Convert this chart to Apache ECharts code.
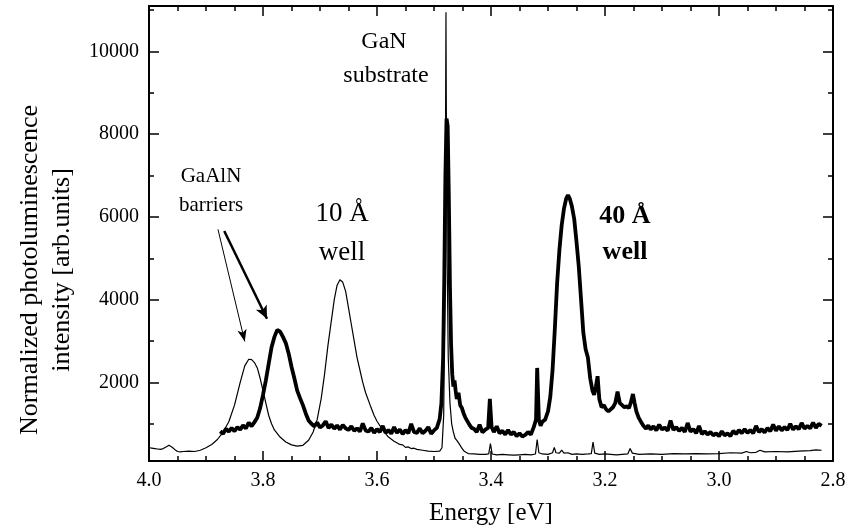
<!DOCTYPE html>
<html>
<head>
<meta charset="utf-8">
<script src="https://cdn.jsdelivr.net/npm/echarts@6/dist/echarts.min.js"></script>
<style>
  html, body { margin: 0; padding: 0; background: #fff; }
  #chart { width: 850px; height: 531px; }
</style>
</head>
<body>
<div id="chart"></div>
<script>
// x tick labels (eV) and y tick values
const xLabels = [2.8, 3.0, 3.2, 3.4, 3.6, 3.8, 4.0];
const yMajor = [2000, 4000, 6000, 8000, 10000];
const yMinor = [1000, 3000, 5000, 7000, 9000, 11000];

// 10 Å well spectrum [energy eV, intensity]
const thinCurve = [
    [4.000, 420], [3.995, 410], [3.990, 400], [3.985, 390], [3.980, 380], [3.975, 400],
    [3.970, 440], [3.965, 480], [3.960, 440], [3.955, 380], [3.950, 330], [3.945, 320],
    [3.940, 330], [3.930, 340], [3.920, 330], [3.910, 360], [3.900, 420], [3.890, 500],
    [3.880, 620], [3.870, 800], [3.860, 1050], [3.850, 1450], [3.840, 2000], [3.832, 2400],
    [3.825, 2560], [3.820, 2550], [3.815, 2480], [3.810, 2350], [3.805, 2100], [3.800, 1800],
    [3.795, 1500], [3.790, 1200], [3.785, 1000], [3.780, 850], [3.770, 680], [3.760, 560],
    [3.750, 490], [3.740, 460], [3.730, 480], [3.720, 600], [3.712, 800], [3.705, 1100],
    [3.698, 1600], [3.692, 2200], [3.686, 2900], [3.680, 3500], [3.675, 4000], [3.670, 4350],
    [3.665, 4480], [3.660, 4420], [3.655, 4200], [3.650, 3800], [3.645, 3400], [3.640, 3000],
    [3.635, 2600], [3.630, 2300], [3.625, 2000], [3.620, 1750], [3.612, 1450], [3.605, 1200],
    [3.600, 1060], [3.590, 850], [3.580, 680], [3.570, 580], [3.560, 500], [3.555, 490],
    [3.550, 430], [3.545, 440], [3.540, 400], [3.535, 410], [3.530, 380], [3.520, 360],
    [3.510, 340], [3.500, 330], [3.490, 340], [3.486, 420], [3.483, 1200], [3.481, 4000],
    [3.4795, 9000], [3.479, 10950], [3.4785, 9000], [3.477, 5000], [3.475, 2600], [3.472, 1500],
    [3.469, 1000], [3.466, 800], [3.463, 650], [3.460, 600], [3.456, 520], [3.452, 430],
    [3.448, 350], [3.444, 310], [3.440, 280], [3.430, 270], [3.420, 260], [3.410, 260],
    [3.404, 270], [3.401, 520], [3.398, 270], [3.390, 250], [3.380, 260], [3.370, 250],
    [3.360, 240], [3.350, 250], [3.340, 260], [3.330, 250], [3.322, 270], [3.319, 620],
    [3.316, 300], [3.310, 270], [3.300, 260], [3.292, 300], [3.289, 430], [3.286, 300],
    [3.280, 290], [3.276, 360], [3.272, 290], [3.265, 300], [3.258, 260], [3.250, 270],
    [3.240, 260], [3.230, 270], [3.224, 280], [3.221, 560], [3.218, 290], [3.210, 260],
    [3.200, 270], [3.190, 260], [3.180, 250], [3.170, 260], [3.160, 270], [3.156, 400],
    [3.152, 290], [3.140, 260], [3.120, 270], [3.100, 260], [3.080, 280], [3.060, 270],
    [3.040, 280], [3.020, 270], [3.000, 280], [2.980, 300], [2.960, 290], [2.952, 330],
    [2.945, 300], [2.935, 310], [2.928, 360], [2.920, 320], [2.900, 330], [2.880, 320],
    [2.860, 340], [2.840, 350], [2.830, 370], [2.820, 360]
];

// 40 Å well spectrum [energy eV, intensity]
const thickCurve = [
    [3.875, 820], [3.870, 760], [3.865, 880], [3.860, 810], [3.855, 900], [3.850, 820],
    [3.845, 920], [3.840, 860], [3.835, 960], [3.830, 890], [3.825, 1030], [3.820, 940],
    [3.815, 1040], [3.810, 1150], [3.805, 1380], [3.800, 1700], [3.795, 2050], [3.790, 2450],
    [3.785, 2850], [3.780, 3100], [3.775, 3270], [3.770, 3230], [3.765, 3100], [3.760, 2950],
    [3.755, 2700], [3.750, 2380], [3.745, 2100], [3.740, 1800], [3.735, 1620], [3.730, 1450],
    [3.725, 1250], [3.720, 1080], [3.715, 1000], [3.710, 940], [3.705, 1030], [3.700, 910],
    [3.695, 960], [3.690, 1060], [3.685, 900], [3.680, 980], [3.675, 880], [3.670, 960],
    [3.665, 860], [3.660, 970], [3.655, 890], [3.650, 850], [3.645, 940], [3.640, 830],
    [3.635, 890], [3.630, 810], [3.625, 1010], [3.620, 840], [3.615, 810], [3.610, 900],
    [3.605, 780], [3.600, 870], [3.595, 800], [3.590, 950], [3.585, 780], [3.580, 850],
    [3.575, 760], [3.570, 920], [3.565, 780], [3.560, 860], [3.555, 750], [3.550, 850],
    [3.545, 770], [3.540, 1000], [3.535, 800], [3.530, 780], [3.525, 890], [3.520, 770],
    [3.515, 830], [3.510, 920], [3.505, 760], [3.500, 840], [3.495, 900], [3.490, 1120],
    [3.487, 1500], [3.484, 2600], [3.482, 4500], [3.480, 7000], [3.478, 8380], [3.476, 8200],
    [3.474, 6500], [3.472, 4300], [3.470, 2900], [3.468, 2200], [3.466, 1900], [3.464, 2050],
    [3.462, 1800], [3.460, 1600], [3.457, 1750], [3.454, 1450], [3.451, 1380], [3.448, 1250],
    [3.445, 1150], [3.442, 1120], [3.438, 980], [3.434, 900], [3.430, 880], [3.425, 800],
    [3.420, 980], [3.415, 790], [3.410, 860], [3.405, 900], [3.402, 1600], [3.399, 920],
    [3.395, 800], [3.390, 940], [3.385, 770], [3.380, 830], [3.375, 740], [3.370, 850],
    [3.365, 740], [3.360, 800], [3.355, 700], [3.350, 770], [3.345, 690], [3.340, 730],
    [3.335, 800], [3.330, 740], [3.325, 920], [3.321, 1100], [3.319, 2350], [3.316, 1100],
    [3.313, 950], [3.310, 1050], [3.305, 1100], [3.300, 1300], [3.296, 1650], [3.292, 2300],
    [3.288, 3300], [3.284, 4400], [3.280, 5200], [3.276, 5800], [3.272, 6200], [3.268, 6450],
    [3.265, 6530], [3.262, 6450], [3.258, 6250], [3.254, 5950], [3.250, 5400], [3.246, 4800],
    [3.242, 4000], [3.238, 3200], [3.234, 2800], [3.230, 2600], [3.226, 2100], [3.222, 1800],
    [3.219, 1700], [3.216, 1900], [3.213, 2150], [3.210, 1600], [3.206, 1400], [3.202, 1450],
    [3.198, 1350], [3.194, 1300], [3.190, 1350], [3.186, 1400], [3.182, 1500], [3.178, 1780],
    [3.174, 1500], [3.170, 1450], [3.166, 1400], [3.162, 1420], [3.158, 1380], [3.155, 1500],
    [3.151, 1720], [3.148, 1500], [3.145, 1300], [3.141, 1150], [3.137, 1050], [3.133, 960],
    [3.128, 880], [3.124, 960], [3.120, 860], [3.115, 940], [3.110, 840], [3.105, 980],
    [3.100, 860], [3.095, 910], [3.090, 830], [3.085, 1080], [3.080, 850], [3.075, 920],
    [3.070, 830], [3.065, 900], [3.060, 800], [3.055, 1020], [3.050, 810], [3.045, 870],
    [3.040, 770], [3.035, 950], [3.030, 750], [3.025, 820], [3.020, 740], [3.015, 800],
    [3.010, 720], [3.005, 770], [3.000, 700], [2.995, 820], [2.990, 720], [2.985, 770],
    [2.980, 700], [2.975, 830], [2.970, 750], [2.965, 850], [2.960, 770], [2.955, 870],
    [2.950, 780], [2.945, 850], [2.940, 770], [2.935, 950], [2.930, 800], [2.925, 870],
    [2.920, 790], [2.915, 900], [2.910, 820], [2.905, 980], [2.900, 830], [2.895, 940],
    [2.890, 840], [2.885, 920], [2.880, 850], [2.875, 1000], [2.870, 860], [2.865, 940],
    [2.860, 870], [2.855, 1020], [2.850, 880], [2.845, 950], [2.840, 890], [2.835, 1030],
    [2.830, 900], [2.825, 1000], [2.820, 950]
];

// arrows from the "GaAlN barriers" label to the two barrier peaks
const thinArrow = [[3.879, 5700], [3.832, 2990]];
const thickArrow = [[3.868, 5660], [3.793, 3540]];

const FONT = '"Liberation Serif", "DejaVu Serif", serif';

const chart = echarts.init(document.getElementById('chart'));

const xBase = {
    type: 'value',
    min: 2.8,
    max: 4.0,
    interval: 0.2,
    inverse: true,
    splitLine: {show: false},
    axisLine: {show: true, onZero: false, lineStyle: {color: '#000', width: 2}},
    axisTick: {show: true, inside: true, length: 10, lineStyle: {color: '#000', width: 1.5}},
    minorTick: {show: true, splitNumber: 4, length: 5, lineStyle: {color: '#000', width: 1.5}}
};

function yAxisOf(position, ticks, len, labels) {
    return {
        type: 'value',
        position: position,
        min: 100,
        max: 11100,
        splitLine: {show: false},
        axisLine: {show: true, onZero: false, lineStyle: {color: '#000', width: 2}},
        axisTick: {show: true, inside: true, length: len, customValues: ticks, lineStyle: {color: '#000', width: 1.5}},
        axisLabel: labels ? {
            show: true, customValues: yMajor, margin: 10,
            color: '#000', fontFamily: FONT, fontSize: 20,
            formatter: v => String(v)
        } : {show: false}
    };
}

const option = {
    animation: false,
    backgroundColor: '#fff',
    grid: {left: 149, right: 17, top: 6, bottom: 68},
    xAxis: [
        Object.assign({}, xBase, {
            position: 'bottom',
            name: 'Energy [eV]',
            nameLocation: 'middle',
            nameGap: 40,
            nameTextStyle: {color: '#000', fontFamily: FONT, fontSize: 25},
            axisLabel: {
                show: true, margin: 10, color: '#000', fontFamily: FONT, fontSize: 20,
                formatter: v => v.toFixed(1)
            }
        }),
        Object.assign({}, xBase, {position: 'top', axisLabel: {show: false}})
    ],
    yAxis: [
        yAxisOf('left', yMajor, 10, true),
        yAxisOf('left', yMinor, 5, false),
        yAxisOf('right', yMajor, 10, false),
        yAxisOf('right', yMinor, 5, false)
    ],
    series: [
        {
            name: '10 Å well',
            type: 'line',
            data: thinCurve,
            showSymbol: false,
            symbol: 'none',
            lineStyle: {color: '#000', width: 1.2},
            markLine: {
                silent: true,
                symbol: ['none', 'arrow'],
                symbolSize: [7, 12],
                label: {show: false},
                lineStyle: {color: '#000', width: 1, type: 'solid'},
                data: [[{coord: thinArrow[0]}, {coord: thinArrow[1]}]]
            }
        },
        {
            name: '40 Å well',
            type: 'line',
            data: thickCurve,
            showSymbol: false,
            symbol: 'none',
            lineStyle: {color: '#000', width: 3.8},
            markLine: {
                silent: true,
                symbol: ['none', 'arrow'],
                symbolSize: [9, 13],
                label: {show: false},
                lineStyle: {color: '#000', width: 2.5, type: 'solid'},
                data: [[{coord: thickArrow[0]}, {coord: thickArrow[1]}]]
            }
        }
    ],
    graphic: [
        {type: 'text', x: 30, y: 270, rotation: Math.PI / 2,
         style: {text: 'Normalized photoluminescence', align: 'center', verticalAlign: 'middle', fontFamily: FONT, fontSize: 26, fill: '#000'}},
        {type: 'text', x: 62, y: 270, rotation: Math.PI / 2,
         style: {text: 'intensity [arb.units]', align: 'center', verticalAlign: 'middle', fontFamily: FONT, fontSize: 26, fill: '#000'}},
        {type: 'text', x: 384, y: 42,
         style: {text: 'GaN', align: 'center', verticalAlign: 'middle', fontFamily: FONT, fontSize: 24, fill: '#000'}},
        {type: 'text', x: 386, y: 76,
         style: {text: 'substrate', align: 'center', verticalAlign: 'middle', fontFamily: FONT, fontSize: 24, fill: '#000'}},
        {type: 'text', x: 211, y: 176,
         style: {text: 'GaAlN', align: 'center', verticalAlign: 'middle', fontFamily: FONT, fontSize: 21, fill: '#000'}},
        {type: 'text', x: 211, y: 205,
         style: {text: 'barriers', align: 'center', verticalAlign: 'middle', fontFamily: FONT, fontSize: 21, fill: '#000'}},
        {type: 'text', x: 342, y: 214,
         style: {text: '10 Å', align: 'center', verticalAlign: 'middle', fontFamily: FONT, fontSize: 27, fill: '#000'}},
        {type: 'text', x: 342, y: 253,
         style: {text: 'well', align: 'center', verticalAlign: 'middle', fontFamily: FONT, fontSize: 27, fill: '#000'}},
        {type: 'text', x: 625, y: 216,
         style: {text: '40 Å', align: 'center', verticalAlign: 'middle', fontFamily: FONT, fontSize: 26, fontWeight: 'bold', fill: '#000'}},
        {type: 'text', x: 625, y: 252,
         style: {text: 'well', align: 'center', verticalAlign: 'middle', fontFamily: FONT, fontSize: 26, fontWeight: 'bold', fill: '#000'}}
    ]
};

chart.setOption(option);
</script>
</body>
</html>
